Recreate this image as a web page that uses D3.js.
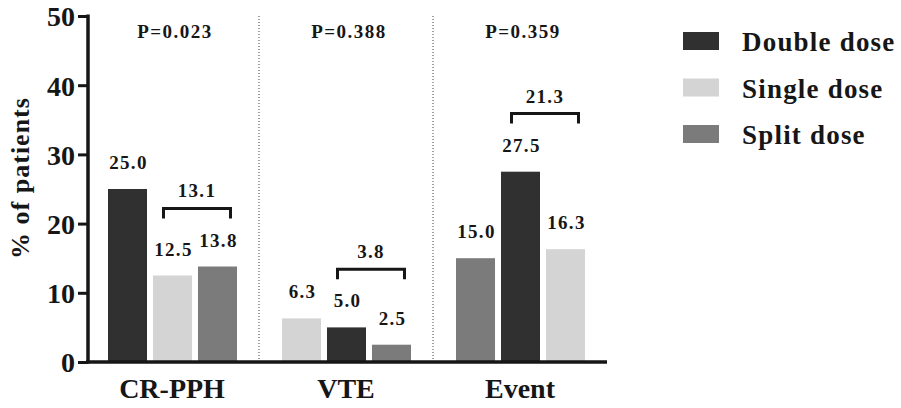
<!DOCTYPE html>
<html>
<head>
<meta charset="utf-8">
<script src="https://cdn.jsdelivr.net/npm/d3@7"></script>
</head>
<body style="margin:0;background:#fff">
<div id="chartDiv"></div>
<script>

var groups = ["CR-PPH", "VTE", "Event"];
var seriesNames = ["Double dose", "Single dose", "Split dose"];
var doubleDose = [25.0, 5.0, 27.5];
var singleDose = [12.5, 6.3, 16.3];
var splitDose = [13.8, 2.5, 15.0];
// bar order inside each group (series index)
var barOrder = [[0, 1, 2], [1, 0, 2], [2, 0, 1]];
var pValues = ["P=0.023", "P=0.388", "P=0.359"];
var bracketValues = ["13.1", "3.8", "21.3"];
var yTicks = [0, 10, 20, 30, 40, 50];

;(function() {

	var width = 901;
	var height = 408;
	var ink = "#161616";
	var colors = ["#303030", "#d3d4d3", "#7b7b7b"];
	var seriesValues = [doubleDose, singleDose, splitDose];

	var chart = d3.select("#chartDiv").append("svg")
		.attr("width", width)
		.attr("height", height)
		.attr("font-family", "Liberation Serif")
		.attr("font-weight", "700");

	var xScale = d3.scaleBand().domain(groups).range([85, 607]);
	var inner = d3.scaleBand().domain([0, 1, 2]).range([23, 152]).paddingInner(0.133);
	var yScale = d3.scaleLinear().domain([0, 50]).range([362, 16]);

	function label(sel, size, spacing) {
		return sel.attr("font-family", "Liberation Serif")
			.attr("font-weight", "700")
			.attr("font-size", size)
			.attr("letter-spacing", spacing)
			.attr("fill", ink);
	}

	// dotted separators
	chart.selectAll(".sep").data(groups.slice(1))
		.enter().append("line")
		.attr("x1", function(d) { return xScale(d); })
		.attr("x2", function(d) { return xScale(d); })
		.attr("y1", yScale(50))
		.attr("y2", yScale(0))
		.attr("stroke", "#444")
		.attr("stroke-width", 1)
		.attr("stroke-dasharray", "1,2");

	// bars
	var bars = [];
	groups.forEach(function(g, gi) {
		barOrder[gi].forEach(function(s, slot) {
			bars.push({ group: g, gi: gi, series: s, slot: slot, value: seriesValues[s][gi] });
		});
	});

	chart.selectAll(".bar").data(bars)
		.enter().append("rect")
		.attr("class", "bar")
		.attr("x", function(d) { return xScale(d.group) + inner(d.slot); })
		.attr("y", function(d) { return yScale(d.value); })
		.attr("width", inner.bandwidth())
		.attr("height", function(d) { return yScale(0) - yScale(d.value); })
		.attr("fill", function(d) { return colors[d.series]; });

	label(chart.selectAll(".val").data(bars)
		.enter().append("text")
		.attr("x", function(d) { return xScale(d.group) + inner(d.slot) + inner.bandwidth() / 2 + 1; })
		.attr("y", function(d) { return yScale(d.value) - 20; })
		.attr("text-anchor", "middle"), 19, 1.3)
		.text(function(d) { return d.value.toFixed(1); });

	// brackets over slot 1 and slot 2
	groups.forEach(function(g, gi) {
		var a = bars.filter(function(b) { return b.gi == gi && b.slot == 1; })[0];
		var b = bars.filter(function(b) { return b.gi == gi && b.slot == 2; })[0];
		var top = yScale(Math.max(a.value, b.value) + 8.4);
		var x1 = xScale(g) + inner(1) + inner.bandwidth() / 2 - 9;
		var x2 = xScale(g) + inner(2) + inner.bandwidth() / 2 + 13;
		chart.append("path")
			.attr("d", "M" + x1 + "," + (top + 10) + "V" + top + "H" + x2 + "V" + (top + 10))
			.attr("fill", "none")
			.attr("stroke", ink)
			.attr("stroke-width", 3);
		label(chart.append("text")
			.attr("x", (x1 + x2) / 2)
			.attr("y", top - 11)
			.attr("text-anchor", "middle"), 19, 1.3)
			.text(bracketValues[gi]);
	});

	// p values
	label(chart.selectAll(".pval").data(groups)
		.enter().append("text")
		.attr("x", function(d) { return xScale(d) + xScale.bandwidth() / 2 + 3; })
		.attr("y", 38)
		.attr("text-anchor", "middle"), 19, 1.5)
		.text(function(d, i) { return pValues[i]; });

	// y axis
	var yAxis = d3.axisLeft(yScale).tickValues(yTicks).tickSize(10).tickPadding(3);
	var yG = chart.append("g")
		.attr("transform", "translate(88,0)")
		.call(yAxis);
	yG.attr("font-family", "Liberation Serif").attr("font-size", 28);
	yG.select(".domain").remove();
	yG.selectAll(".tick line").attr("stroke", ink).attr("stroke-width", 3);
	label(yG.selectAll(".tick text"), 28, 0).attr("dy", "0.35em");
	chart.append("line")
		.attr("x1", 88).attr("x2", 88)
		.attr("y1", yScale(50) - 1.5).attr("y2", yScale(0) + 1.5)
		.attr("stroke", ink).attr("stroke-width", 3.5);

	// x axis
	var xAxis = d3.axisBottom(xScale).tickSize(0).tickPadding(0);
	var xG = chart.append("g")
		.attr("transform", "translate(0," + yScale(0) + ")")
		.call(xAxis);
	xG.attr("font-family", "Liberation Serif").attr("font-size", 28);
	xG.select(".domain").remove();
	label(xG.selectAll(".tick text"), 28, 0).attr("y", 36).attr("dy", 0);
	chart.append("line")
		.attr("x1", 86).attr("x2", 607)
		.attr("y1", yScale(0)).attr("y2", yScale(0))
		.attr("stroke", ink).attr("stroke-width", 3.5);

	// y axis title
	label(chart.append("text")
		.attr("text-anchor", "middle")
		.attr("transform", "translate(29,178) rotate(-90)"), 26, 1)
		.text("% of patients");

	// legend
	var legend = chart.selectAll(".legend").data(seriesNames)
		.enter().append("g")
		.attr("transform", function(d, i) { return "translate(683," + (32 + i * 46.5) + ")"; });
	legend.append("rect")
		.attr("width", 36).attr("height", 18)
		.attr("fill", function(d, i) { return colors[i]; });
	label(legend.append("text")
		.attr("x", 59).attr("y", 19), 27, 1.2)
		.text(function(d) { return d; });

})();
</script>
</body>
</html>
